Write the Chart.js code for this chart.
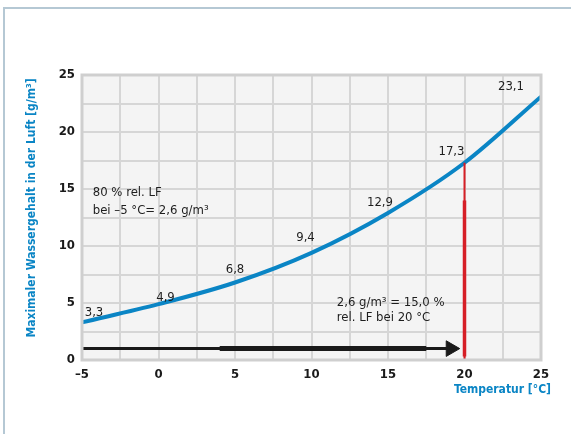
<!DOCTYPE html>
<html>
<head>
<meta charset="utf-8">
<script src="https://cdn.jsdelivr.net/npm/chart.js@4.4.1/dist/chart.umd.min.js"></script>
<style>
  html, body { margin: 0; padding: 0; background: #fff; }
  #wrap { position: relative; width: 571px; height: 434px; overflow: hidden; }
  #frame { position: absolute; left: 3px; top: 7px; right: -5px; bottom: -5px;
           border-left: 2px solid #b5c8d4; border-top: 2px solid #b5c8d4; }
  canvas { position: absolute; left: 0; top: 0; }
</style>
</head>
<body>
<div id="wrap">
  <div id="frame"></div>
  <canvas id="chart" width="571" height="434"></canvas>
</div>
<script>
// Daten
const temps = [-5, 0, 5, 10, 15, 20, 25];
const waterContent = [3.3, 4.9, 6.8, 9.4, 12.9, 17.3, 23.1];
const valueLabels = ["3,3", "4,9", "6,8", "9,4", "12,9", "17,3", "23,1"];

// Pfeil bei ca. 1 g/m³ bis 20 °C
const arrowX = [-5, 19];
const arrowY = [1, 1];
const arrowThickX = [4, 17.5];
const arrowHeadX = [19.1];

// rote Linie bei 20 °C
const redX = [20, 20];
const redY = [17.3, 0];
const redThickY = [14, 0.3];

const noteLeft = ["80 % rel. LF", "bei –5 °C= 2,6 g/m³"];
const noteRight = ["2,6 g/m³ = 15,0 %", "rel. LF bei 20 °C"];

const yTitle = "Maximaler Wassergehalt in der Luft [g/m³]";
const xTitle = "Temperatur [°C]";

const BLUE = "#0a85c5";
const FONT = "'DejaVu Sans Condensed', 'DejaVu Sans', sans-serif";

const xy = (xs, ys) => xs.map((x, i) => ({ x, y: ys[i] }));

const decorPlugin = {
  id: "decor",
  beforeDraw(chart) {
    const { ctx, chartArea: a } = chart;
    ctx.save();
    ctx.fillStyle = "#f4f4f4";
    ctx.fillRect(a.left, a.top, a.right - a.left, a.bottom - a.top);
    ctx.restore();
  },
  afterDraw(chart) {
    const { ctx, chartArea: a, scales: { x, y } } = chart;
    ctx.save();
    // Rahmen
    ctx.strokeStyle = "#cfcfcf";
    ctx.lineWidth = 3;
    ctx.strokeRect(a.left, a.top, a.right - a.left, a.bottom - a.top);

    // Werte an der Kurve
    const offs = [[12, -10], [7, -7], [0, -13], [-6, -15], [-8, -10], [-13, -11], [-30, -10]];
    ctx.font = "13px " + FONT;
    ctx.fillStyle = "#1e1e1e";
    ctx.textAlign = "center";
    ctx.textBaseline = "middle";
    valueLabels.forEach((t, i) => {
      ctx.fillText(t, x.getPixelForValue(temps[i]) + offs[i][0], y.getPixelForValue(waterContent[i]) + offs[i][1]);
    });

    // Hinweise
    ctx.textAlign = "left";
    noteLeft.forEach((t, i) => ctx.fillText(t, x.getPixelForValue(-4.3), y.getPixelForValue(14.65 - i * 1.55)));
    noteRight.forEach((t, i) => ctx.fillText(t, x.getPixelForValue(11.65), y.getPixelForValue(5.05 - i * 1.3)));

    // Achsentitel
    ctx.fillStyle = BLUE;
    ctx.font = "bold 12px " + FONT;
    ctx.textAlign = "right";
    ctx.fillText(xTitle, 551, 390);
    ctx.translate(32, 208);
    ctx.rotate(-Math.PI / 2);
    ctx.textAlign = "center";
    ctx.fillText(yTitle, 0, 0);
    ctx.restore();
  }
};

new Chart(document.getElementById("chart"), {
  type: "line",
  data: {
    datasets: [
      { data: xy(arrowX, arrowY), borderColor: "#1a1a1a", borderWidth: 3, pointRadius: 0 },
      { data: xy(arrowThickX, arrowY), borderColor: "#1a1a1a", borderWidth: 5, pointRadius: 0 },
      { data: xy(arrowHeadX, [arrowY[0]]), pointStyle: "triangle", rotation: 90, pointRadius: 9,
        backgroundColor: "#1a1a1a", borderColor: "#1a1a1a", showLine: false },
      { data: xy(redX, redY), borderColor: "#d61f26", borderWidth: 2, pointRadius: 0 },
      { data: xy(redX, redThickY), borderColor: "#d61f26", borderWidth: 3.5, pointRadius: 0 },
      { data: xy(temps, waterContent), borderColor: BLUE, borderWidth: 4, pointRadius: 0,
        cubicInterpolationMode: "monotone" }
    ]
  },
  options: {
    responsive: false,
    animation: false,
    layout: { padding: { left: 0, top: 75, right: 30, bottom: 0 } },
    plugins: { legend: { display: false }, tooltip: { enabled: false } },
    scales: {
      x: {
        type: "linear", min: -5, max: 25,
        afterFit: s => { s.height = 74; },
        grid: { color: "#d6d6d6", lineWidth: 2, drawTicks: false },
        border: { display: false },
        ticks: {
          stepSize: 2.5, padding: 7, color: "#1a1a1a", maxRotation: 0, autoSkip: false,
          font: { family: FONT, size: 13, weight: "bold" },
          callback: v => (v % 5 === 0 ? String(v).replace("-", "–") : "")
        }
      },
      y: {
        min: 0, max: 25,
        afterFit: s => { s.width = 82; },
        grid: { color: "#d6d6d6", lineWidth: 2, drawTicks: false },
        border: { display: false },
        ticks: {
          stepSize: 2.5, padding: 7, color: "#1a1a1a", autoSkip: false,
          font: { family: FONT, size: 13, weight: "bold" },
          callback: v => (v % 5 === 0 ? v : "")
        }
      }
    }
  },
  plugins: [decorPlugin]
});
</script>
</body>
</html>
